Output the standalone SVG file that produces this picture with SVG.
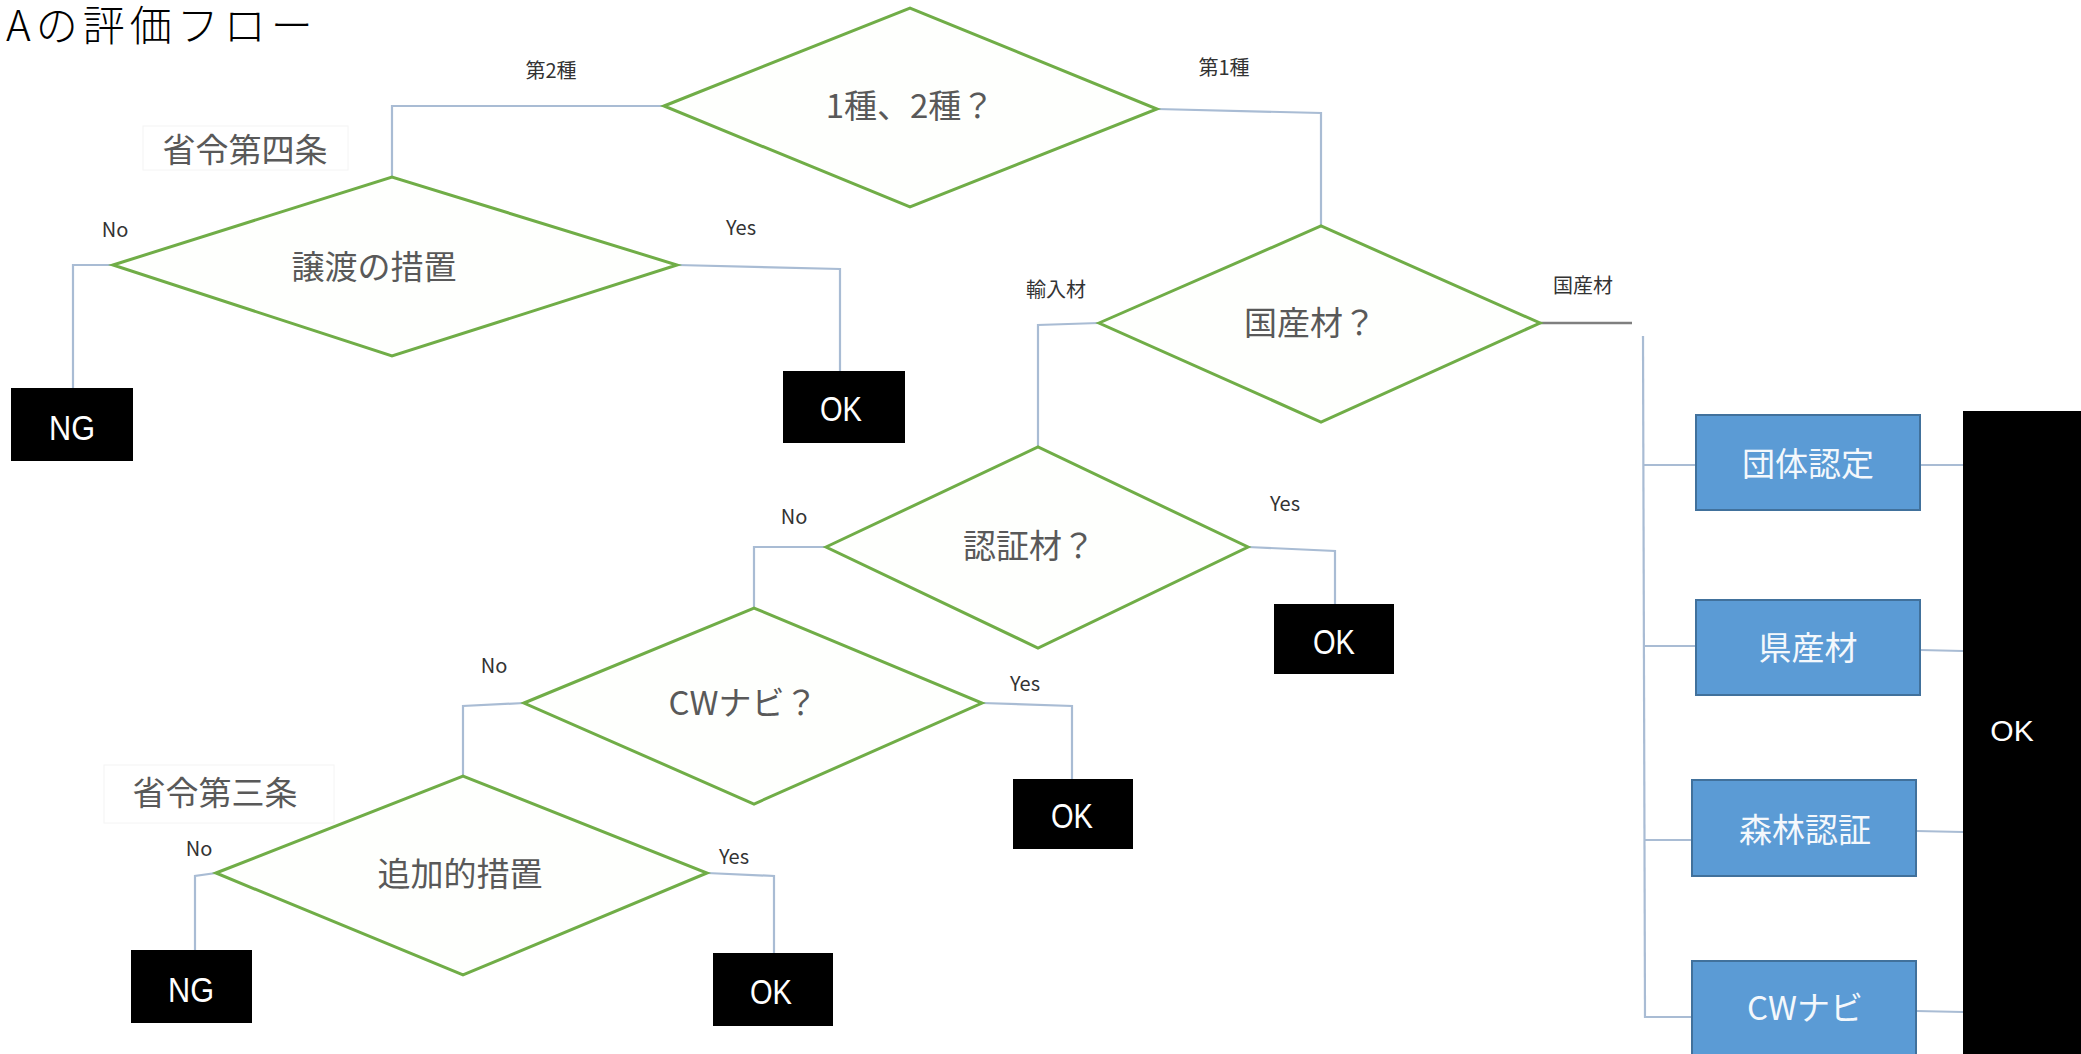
<svg xmlns="http://www.w3.org/2000/svg" width="2081" height="1054" viewBox="0 0 2081 1054">
<style>
.dia{fill:#fefffd;stroke:#70ad47;stroke-width:3}
.conn{fill:none;stroke:#a9bcd4;stroke-width:2.2}
.blk{fill:#000}
.blue{fill:#5b9bd5;stroke:#41719c;stroke-width:2}
.q{font-family:"Noto Sans CJK JP","Noto Sans",sans-serif;fill:#595959;font-size:33px;text-anchor:middle;dominant-baseline:central}
.s{font-family:"Noto Sans CJK JP","Liberation Sans",sans-serif;fill:#333;font-size:20px;text-anchor:middle;dominant-baseline:central}
.w{font-family:"Liberation Sans",sans-serif;fill:#fff;font-size:35px;text-anchor:middle;dominant-baseline:central}
.wk{font-family:"Liberation Sans","Noto Sans CJK JP",sans-serif;fill:#fff;font-size:30px;text-anchor:middle;dominant-baseline:central}
.wb{font-family:"Noto Sans CJK JP",sans-serif;fill:#f4f8fc;font-size:33px;text-anchor:middle;dominant-baseline:central}
.note{fill:#fff;stroke:#f4f4f4;stroke-width:1}
</style>
<text x="6" y="41" font-family="'Noto Sans CJK JP',sans-serif" font-size="42" font-weight="300" letter-spacing="5" fill="#000">Aの評価フロー</text>

<g id="connectors">
<polyline class="conn" points="664,106 392,106 392,177"/>
<polyline class="conn" points="1157,109 1321,113 1321,226"/>
<polyline class="conn" points="113,265 73,265 73,388"/>
<polyline class="conn" points="677,265 840,269 840,372"/>
<polyline class="conn" points="1099,323 1038,325 1038,447"/>
<line x1="1540" y1="323" x2="1632" y2="323" stroke="#7f7f7f" stroke-width="2.5"/>
<line class="conn" x1="1643" y1="336" x2="1645" y2="1018"/>
<line class="conn" x1="1643" y1="465" x2="1696" y2="465"/>
<line class="conn" x1="1644" y1="646" x2="1696" y2="646"/>
<line class="conn" x1="1644" y1="840" x2="1692" y2="840"/>
<line class="conn" x1="1645" y1="1017" x2="1692" y2="1017"/>
<line class="conn" x1="1920" y1="465" x2="1963" y2="465"/>
<line class="conn" x1="1920" y1="650" x2="1963" y2="651"/>
<line class="conn" x1="1916" y1="831" x2="1963" y2="832"/>
<line class="conn" x1="1916" y1="1011" x2="1963" y2="1012"/>
<polyline class="conn" points="1248,547 1335,551 1335,604"/>
<polyline class="conn" points="826,547 754,547 754,608"/>
<polyline class="conn" points="982,703 1072,706 1072,780"/>
<polyline class="conn" points="524,703 463,706 463,776"/>
<polyline class="conn" points="216,873 195,876 195,950"/>
<polyline class="conn" points="707,873 774,876 774,953"/>
</g>

<g id="labels">
<text class="s" x="551" y="69">第2種</text>
<text class="s" x="1224" y="66">第1種</text>
<text class="s" x="115" y="228">No</text>
<text class="s" x="741" y="226">Yes</text>
<text class="s" x="1056" y="288">輸入材</text>
<text class="s" x="1583" y="284">国産材</text>
<text class="s" x="794" y="515">No</text>
<text class="s" x="1285" y="502">Yes</text>
<text class="s" x="494" y="664">No</text>
<text class="s" x="1025" y="682">Yes</text>
<text class="s" x="199" y="847">No</text>
<text class="s" x="734" y="855">Yes</text>
</g>

<g id="note4">
<rect class="note" x="143" y="126" width="205" height="44"/>
<text class="q" x="245" y="148">省令第四条</text>
</g>
<g id="note3">
<rect class="note" x="104" y="765" width="230" height="58"/>
<text class="q" x="215" y="791">省令第三条</text>
</g>

<g id="d1">
<polygon class="dia" points="664,106 910,8 1157,109 910,207"/>
<text class="q" x="910" y="104">1種、2種？</text>
</g>
<g id="d2">
<polygon class="dia" points="113,265 392,177 677,265 392,356"/>
<text class="q" x="374" y="265">譲渡の措置</text>
</g>
<g id="d3">
<polygon class="dia" points="1099,323 1321,226 1540,323 1321,422"/>
<text class="q" x="1310" y="321">国産材？</text>
</g>
<g id="d4">
<polygon class="dia" points="826,547 1038,447 1248,547 1038,648"/>
<text class="q" x="1029" y="544">認証材？</text>
</g>
<g id="d5">
<polygon class="dia" points="524,703 754,608 982,703 754,804"/>
<text class="q" x="743" y="701">CWナビ？</text>
</g>
<g id="d6">
<polygon class="dia" points="216,873 463,776 707,873 463,975"/>
<text class="q" x="460" y="872">追加的措置</text>
</g>

<g id="ng1"><rect class="blk" x="11" y="388" width="122" height="73"/><text class="w" x="72" y="427" textLength="46" lengthAdjust="spacingAndGlyphs">NG</text></g>
<g id="ok1"><rect class="blk" x="783" y="371" width="122" height="72"/><text class="w" x="841" y="408" textLength="42" lengthAdjust="spacingAndGlyphs">OK</text></g>
<g id="ok2"><rect class="blk" x="1274" y="604" width="120" height="70"/><text class="w" x="1334" y="641" textLength="42" lengthAdjust="spacingAndGlyphs">OK</text></g>
<g id="ok3"><rect class="blk" x="1013" y="779" width="120" height="70"/><text class="w" x="1072" y="815" textLength="42" lengthAdjust="spacingAndGlyphs">OK</text></g>
<g id="ng2"><rect class="blk" x="131" y="950" width="121" height="73"/><text class="w" x="191" y="989" textLength="46" lengthAdjust="spacingAndGlyphs">NG</text></g>
<g id="ok4"><rect class="blk" x="713" y="953" width="120" height="73"/><text class="w" x="771" y="991" textLength="42" lengthAdjust="spacingAndGlyphs">OK</text></g>

<g id="b1"><rect class="blue" x="1696" y="415" width="224" height="95"/><text class="wb" x="1808" y="462">団体認定</text></g>
<g id="b2"><rect class="blue" x="1696" y="600" width="224" height="95"/><text class="wb" x="1808" y="646">県産材</text></g>
<g id="b3"><rect class="blue" x="1692" y="780" width="224" height="96"/><text class="wb" x="1805" y="828">森林認証</text></g>
<g id="b4"><rect class="blue" x="1692" y="961" width="224" height="100"/><text class="wb" x="1805" y="1006">CWナビ</text></g>

<g id="okbig"><rect class="blk" x="1963" y="411" width="120" height="650"/><text class="wk" x="2012" y="730">OK</text></g>
</svg>
